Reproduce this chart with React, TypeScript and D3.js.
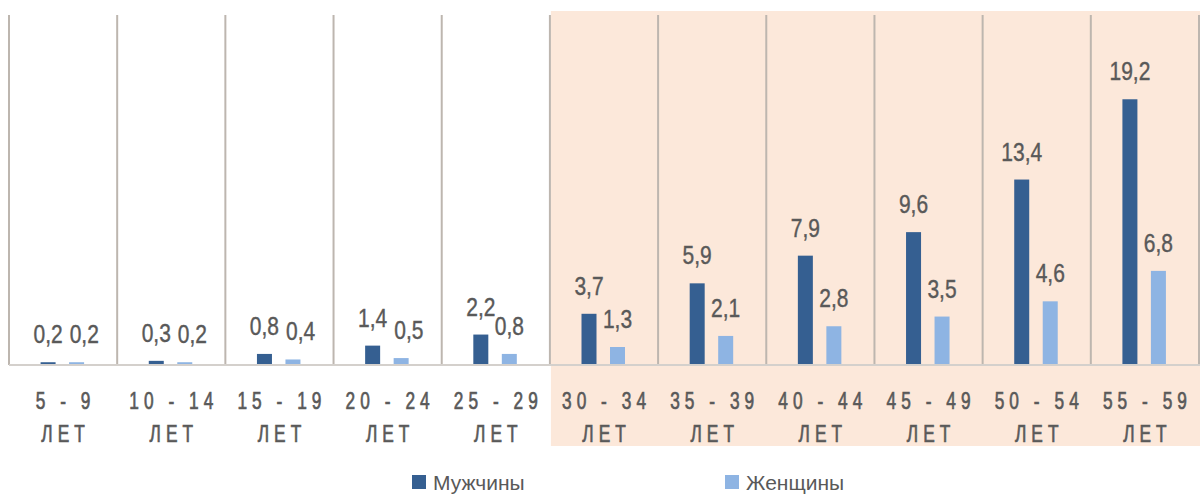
import React from "react";
import * as d3 from "d3";

const categories = ["5 - 9", "10 - 14", "15 - 19", "20 - 24", "25 - 29", "30 - 34", "35 - 39", "40 - 44", "45 - 49", "50 - 54", "55 - 59"];
const men = [0.2, 0.3, 0.8, 1.4, 2.2, 3.7, 5.9, 7.9, 9.6, 13.4, 19.2];
const women = [0.2, 0.2, 0.4, 0.5, 0.8, 1.3, 2.1, 2.8, 3.5, 4.6, 6.8];
const seriesNames = ["Мужчины", "Женщины"];
const highlighted = ["30 - 34", "55 - 59"];

const W = 1200, H = 495;
const left = 9, right = 1199, top = 15, base = 365;
const FONT = "'Liberation Sans', Arial, sans-serif";
const TEXT = "#595959";
const C_MEN = "#355F91";
const C_WOMEN = "#8EB4E3";
const LBL_SIZE = 25;
const LBL_SX = 0.84;

function T({ x, y, size, sx, ls = 0, sw = 0, anchor = "middle", children }: any) {
  const shift = anchor === "middle" ? (ls * sx) / 2 : 0;
  return (
    <text
      transform={`translate(${x + shift},${y}) scale(${sx},1)`}
      textAnchor={anchor}
      fontFamily={FONT}
      fontSize={size}
      letterSpacing={ls}
      fill={TEXT}
      stroke={sw ? TEXT : "none"}
      strokeWidth={sw}
    >
      {children}
    </text>
  );
}

function labelWidth(s: string) {
  let w = 0;
  for (const ch of s) w += ch === "," ? 0.278 : 0.556;
  return w * LBL_SIZE * LBL_SX;
}

export default function App() {
  const x = d3.scaleBand<string>().domain(categories).range([left, right]).padding(0);
  const y = d3.scaleLinear().domain([0, 25]).range([base, 19]);
  const bw = x.bandwidth();
  const barW = 15;
  const fmt = (v: number) => v.toFixed(1).replace(".", ",");
  const hx0 = x(highlighted[0])!;
  const hx1 = x(highlighted[1])! + bw;
  return (
    <svg width={W} height={H} style={{ display: "block", position: "absolute", left: 0, top: 0 }}>
      <rect x={0} y={0} width={W} height={H} fill="#fff" />
      <rect x={hx0 + 1} y={11} width={hx1 - hx0} height={446 - 11} fill="#FCE8DA" />
      {categories.map((c) => (
        <line key={"g" + c} x1={x(c)!} x2={x(c)!} y1={top} y2={base} stroke="#BDB6AF" strokeWidth={2} />
      ))}
      <line x1={right} x2={right} y1={top} y2={base} stroke="#BDB6AF" strokeWidth={2} />
      <line x1={left} x2={right + 1} y1={base} y2={base} stroke="#D4D0CC" strokeWidth={2} />
      {categories.map((c, i) => {
        const cx = x(c)! + bw / 2;
        const mx = cx - 15 - barW / 2;
        const wx = cx + 13.5 - barW / 2;
        const mText = fmt(men[i]);
        const wText = fmt(women[i]);
        const mLx = mx + barW / 2;
        const mLy = y(men[i]) - 19;
        let wLx = wx + barW / 2;
        const wLy = y(women[i]) - 19;
        const mRight = mLx + labelWidth(mText) / 2;
        const wLeft = wLx - labelWidth(wText) / 2;
        if (Math.abs(mLy - wLy) < 18 && wLeft < mRight + 7) {
          wLx = mRight + 7 + labelWidth(wText) / 2;
        }
        return (
          <g key={c}>
            <rect x={mx} y={y(men[i])} width={barW} height={base - 1 - y(men[i])} fill={C_MEN} />
            <rect x={wx} y={y(women[i])} width={barW} height={base - 1 - y(women[i])} fill={C_WOMEN} />
            <T x={mLx} y={mLy} size={LBL_SIZE} sx={LBL_SX} sw={0.4}>{mText}</T>
            <T x={wLx} y={wLy} size={LBL_SIZE} sx={LBL_SX} sw={0.4}>{wText}</T>
            <T x={cx} y={409} size={24} sx={0.72} ls={7} sw={0.7}>{c}</T>
            <T x={cx} y={442} size={24} sx={0.72} ls={7} sw={0.7}>ЛЕТ</T>
          </g>
        );
      })}
      <rect x={412} y={475} width={14} height={14} fill={C_MEN} />
      <T x={433} y={490} size={21} sx={1} anchor="start">{seriesNames[0]}</T>
      <rect x={725} y={475} width={14} height={14} fill={C_WOMEN} />
      <T x={746} y={490} size={21} sx={1} anchor="start">{seriesNames[1]}</T>
    </svg>
  );
}
